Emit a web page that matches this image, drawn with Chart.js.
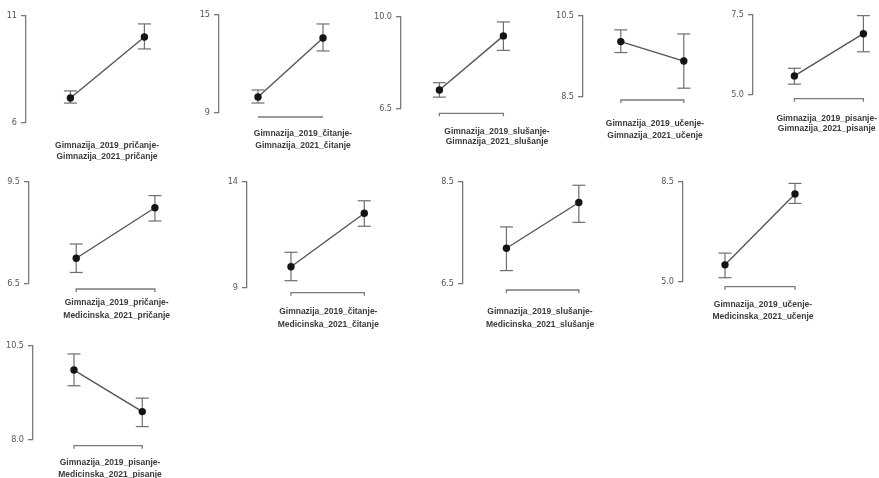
<!DOCTYPE html>
<html>
<head>
<meta charset="utf-8">
<script src="https://cdn.jsdelivr.net/npm/chart.js@4"></script>
<style>
  html, body { margin:0; padding:0; background:#fff; overflow:hidden; }
  body { width:879px; height:478px; position:relative; }
  canvas { position:absolute; }
</style>
</head>
<body>
<script>
// ---------------- DATA ----------------
const labelsTop = ["Gimnazija_2019_pričanje-", "Gimnazija_2019_čitanje-", "Gimnazija_2019_slušanje-", "Gimnazija_2019_učenje-", "Gimnazija_2019_pisanje-",
                   "Gimnazija_2019_pričanje-", "Gimnazija_2019_čitanje-", "Gimnazija_2019_slušanje-", "Gimnazija_2019_učenje-", "Gimnazija_2019_pisanje-"];
const labelsBottom = ["Gimnazija_2021_pričanje", "Gimnazija_2021_čitanje", "Gimnazija_2021_slušanje", "Gimnazija_2021_učenje", "Gimnazija_2021_pisanje",
                      "Medicinska_2021_pričanje", "Medicinska_2021_čitanje", "Medicinska_2021_slušanje", "Medicinska_2021_učenje", "Medicinska_2021_pisanje"];
const mean2019  = [7.17, 9.98, 7.21, 9.86, 5.58, 7.24, 9.99, 7.19, 5.59, 9.85];
const lower2019 = [6.93, 9.61, 6.94, 9.59, 5.32, 6.82, 9.33, 6.75, 5.14, 9.43];
const upper2019 = [7.50, 10.41, 7.49, 10.15, 5.82, 7.66, 10.67, 7.61, 6.00, 10.28];
const mean2021  = [10.02, 13.59, 9.27, 9.38, 6.91, 8.73, 12.51, 8.09, 8.07, 8.74];
const lower2021 = [9.46, 12.80, 8.72, 8.71, 6.34, 8.34, 11.90, 7.70, 7.74, 8.34];
const upper2021 = [10.63, 14.45, 9.80, 10.05, 7.48, 9.09, 13.10, 8.43, 8.44, 9.10];
const yMin = [6, 9, 6.5, 8.5, 5.0, 6.5, 9, 6.5, 5.0, 8.0];
const yMax = [11, 15, 10.0, 10.5, 7.5, 9.5, 14, 8.5, 8.5, 10.5];
const yMinLabels = ["6", "9", "6.5", "8.5", "5.0", "6.5", "9", "6.5", "5.0", "8.0"];
const yMaxLabels = ["11", "15", "10.0", "10.5", "7.5", "9.5", "14", "8.5", "8.5", "10.5"];

// ---------------- LAYOUT (pixels) ----------------
const axisX   = [26, 219.3, 400.7, 582.7, 752.7, 29.3, 246.7, 462.7, 683.3, 33.3];
const axisTop = [16, 15, 16.7, 15.7, 15, 181.7, 181.7, 181.7, 181.7, 345.7];
const axisBot = [123, 113, 108.7, 96.7, 94.3, 283.3, 287.7, 283.3, 281.7, 439.3];
const unitW   = [74, 65, 64, 63, 69, 78.7, 73.3, 72.4, 70, 68.3];
const xLineDy = [null, 4, 4.6, 3.3, 4.4, 5.7, 5, 6.7, 5, 6.4];
const xTickLen= [0, 0, 3, 3, 3, 3, 3, 3, 3, 3];
const labelCx = [107, 303, 497, 655, 826.7, 116.7, 328.3, 540, 763, 110];
const labelY  = [146, 134, 131.7, 123.3, 118.3, 302.7, 311.7, 311.7, 305, 462.3];
const labelGap= [11, 12, 10, 12, 10, 13, 12.6, 13.3, 11.7, 12];

const YW = 34, PT = 10, PB = 60, PR = 60;
const AXIS_COL = '#7a7a7a';

const extras = {
  id: 'extras',
  afterDraw(chart) {
    const i = chart.options.plugins.extras.idx;
    const left = chart.options.plugins.extras.left;
    const top = chart.options.plugins.extras.top;
    const ctx = chart.ctx;
    const xs = chart.scales.x;
    const ca = chart.chartArea;
    ctx.save();
    if (xLineDy[i] !== null) {
      const y = ca.bottom + xLineDy[i];
      const x1 = xs.getPixelForValue(1), x2 = xs.getPixelForValue(2);
      ctx.strokeStyle = AXIS_COL;
      ctx.lineWidth = 1.3;
      ctx.beginPath();
      ctx.moveTo(x1, y + xTickLen[i]);
      ctx.lineTo(x1, y);
      ctx.lineTo(x2, y);
      ctx.lineTo(x2, y + xTickLen[i]);
      ctx.stroke();
    }
    ctx.fillStyle = '#3a3a3a';
    ctx.font = 'bold 8.5px "Liberation Sans", Arial, sans-serif';
    ctx.textAlign = 'center';
    ctx.textBaseline = 'middle';
    ctx.fillText(labelsTop[i], labelCx[i] - left, labelY[i] - top);
    ctx.fillText(labelsBottom[i], labelCx[i] - left, labelY[i] + labelGap[i] - top);
    ctx.restore();
  }
};

for (let i = 0; i < mean2019.length; i++) {
  const left = Math.round(axisX[i]) - YW;
  const top = Math.round(axisTop[i]) - PT;
  const areaW = 2.2 * unitW[i];
  const areaH = axisBot[i] - axisTop[i];
  const W = Math.ceil(YW + areaW + PR);
  const H = Math.ceil(PT + areaH + PB);
  const cv = document.createElement('canvas');
  cv.width = W; cv.height = H;
  cv.style.left = left + 'px'; cv.style.top = top + 'px';
  cv.style.width = W + 'px'; cv.style.height = H + 'px';
  document.body.appendChild(cv);

  const padTop = PT + (axisTop[i] - Math.round(axisTop[i]));
  const padBottom = H - padTop - areaH;
  const padRight = W - YW - areaW;

  const errStyle = {
    type: 'line', showLine: true, borderColor: '#6e6e6e', borderWidth: 1.2,
    pointStyle: 'line', pointRadius: 6.5, pointBorderColor: '#6e6e6e', pointBorderWidth: 1.2,
    clip: false, order: 2
  };

  new Chart(cv, {
    type: 'line',
    data: {
      datasets: [
        {
          data: [{x: 1, y: mean2019[i]}, {x: 2, y: mean2021[i]}],
          borderColor: '#555', borderWidth: 1.4,
          pointRadius: 3.7, pointBackgroundColor: '#141414', pointBorderColor: '#141414', pointBorderWidth: 0,
          clip: false, order: 0
        },
        Object.assign({data: [{x: 1, y: lower2019[i]}, {x: 1, y: upper2019[i]}]}, errStyle),
        Object.assign({data: [{x: 2, y: lower2021[i]}, {x: 2, y: upper2021[i]}]}, errStyle)
      ]
    },
    options: {
      responsive: false,
      animation: false,
      events: [],
      layout: { padding: { left: 0, top: padTop, bottom: padBottom, right: padRight } },
      plugins: { legend: { display: false }, tooltip: { enabled: false }, extras: { idx: i, left: left, top: top } },
      scales: {
        x: { type: 'linear', min: 0.4, max: 2.6, display: false },
        y: {
          type: 'linear', min: yMin[i], max: yMax[i],
          afterBuildTicks: s => { s.ticks = [{value: yMin[i]}, {value: yMax[i]}]; },
          afterFit: s => { s.width = YW; },
          ticks: {
            padding: 4, color: '#555',
            font: { family: '"Liberation Sans Narrow", "DejaVu Sans Condensed", sans-serif', size: 9 },
            callback: (v, idx) => (idx === 0 ? yMinLabels[i] : yMaxLabels[i])
          },
          grid: { drawOnChartArea: false, drawTicks: true, tickLength: 5, color: AXIS_COL, lineWidth: 1.3 },
          border: { display: true, color: AXIS_COL, width: 1.3 }
        }
      }
    },
    plugins: [extras]
  });
}
</script>
</body>
</html>
